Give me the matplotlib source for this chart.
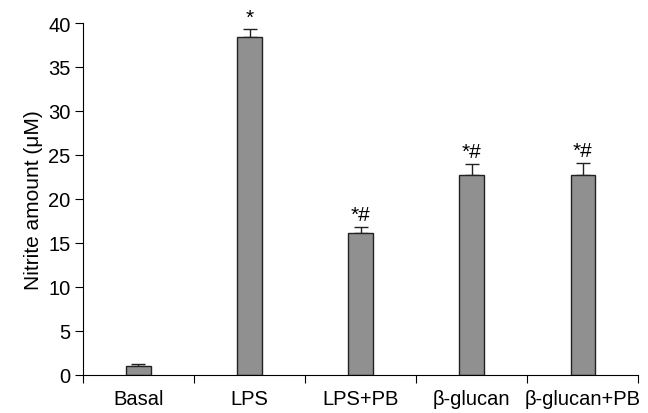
import matplotlib.pyplot as plt
import numpy as np

plt.rcParams['font.family'] = ['Liberation Sans', 'DejaVu Sans']

groups = ['Basal', 'LPS', 'LPS+PB', 'β-glucan', 'β-glucan+PB']
nitrite = [1.0, 38.4, 16.1, 22.7, 22.7]
errors = [0.25, 0.9, 0.7, 1.3, 1.4]
marks = ['', '*', '*#', '*#', '*#']

fig = plt.figure(figsize=(6.48, 4.14), dpi=100)
ax = fig.add_axes([0.128, 0.092, 0.857, 0.85])

xs = np.arange(len(groups)) + 0.5
ax.bar(xs, nitrite, width=0.22, color='#909090', edgecolor='#222222', linewidth=1.0, zorder=2)
ax.errorbar(xs, nitrite, yerr=[np.zeros(len(errors)), errors], fmt='none',
            ecolor='#222222', elinewidth=1.0, capsize=5, capthick=1.0, zorder=1)

for x, y, e, m in zip(xs, nitrite, errors, marks):
    if m:
        ax.text(x, y + e + 0.3, m, ha='center', va='bottom', fontsize=15)

ax.set_xlim(0, len(groups))
ax.set_ylim(0, 40)
ax.set_yticks(np.arange(0, 41, 5))
ax.set_xticks(np.arange(0, len(groups) + 1))
ax.set_xticklabels([])
ax.set_xticks(xs, minor=True)
ax.set_xticklabels(groups, minor=True, fontsize=14.5)
ax.tick_params(axis='x', which='minor', length=0, pad=10)
ax.tick_params(axis='x', which='major', length=6, direction='out')
ax.tick_params(axis='y', length=6, labelsize=14.5, pad=3)
ax.set_ylabel('Nitrite amount (μM)', fontsize=15, labelpad=4)

for s in ['top', 'right']:
    ax.spines[s].set_visible(False)

fig.savefig('out.png', dpi=100)
